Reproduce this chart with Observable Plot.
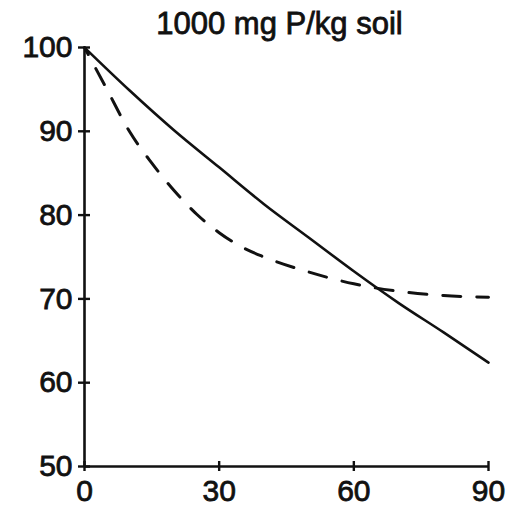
<!DOCTYPE html>
<html>
<head>
<meta charset="utf-8">
<script src="https://cdn.jsdelivr.net/npm/d3@7"></script>
<script src="https://cdn.jsdelivr.net/npm/@observablehq/plot@0.6"></script>
<style>
  html, body { margin: 0; padding: 0; background: #fff; }
  #chart svg text { stroke: #111; stroke-width: 0.8px; }
</style>
</head>
<body>
<div id="chart"></div>
<script>
const title = "1000 mg P/kg soil";
const solidDays = [0, 10, 20, 30, 40, 50, 60, 70, 80, 90];
const solidValues = [100, 94.9, 90.1, 85.7, 81.3, 77.3, 73.3, 69.5, 66.0, 62.4];
const dashDays = [0, 5, 10, 15, 20, 25, 30, 35, 40, 50, 60, 70, 80, 90];
const dashValues = [100, 95, 90, 86.2, 82.9, 80.1, 77.9, 76.2, 75.0, 73.2, 71.8, 70.9, 70.4, 70.2];
const xTicks = [0, 30, 60, 90];
const yTicks = [50, 60, 70, 80, 90, 100];

const solid = solidDays.map((d, i) => ({day: d, value: solidValues[i]}));
const dashed = dashDays.map((d, i) => ({day: d, value: dashValues[i]}));

const chart = Plot.plot({
  width: 520,
  height: 513,
  marginLeft: 84,
  marginRight: 32,
  marginTop: 47,
  marginBottom: 47,
  style: {fontFamily: "'Liberation Sans', Arial, sans-serif", fontSize: "30px", color: "#111", background: "#fff"},
  x: {domain: [0, 90]},
  y: {domain: [50, 100]},
  marks: [
    Plot.ruleX([0], {y1: 50, y2: 100, stroke: "#111", strokeWidth: 2.6}),
    Plot.ruleY([50], {x1: 0, x2: 90, stroke: "#111", strokeWidth: 2.6}),
    Plot.axisY({ticks: yTicks, tickSize: 12, dx: 6, tickPadding: 6, strokeWidth: 2.4, label: null, fill: "#111"}),
    Plot.axisX({ticks: xTicks, tickSize: 10, dy: -5, tickPadding: 8, strokeWidth: 2.4, label: null, fill: "#111"}),
    Plot.line(solid, {x: "day", y: "value", stroke: "#111", strokeWidth: 2.6, curve: "monotone-x"}),
    Plot.line(dashed, {x: "day", y: "value", stroke: "#111", strokeWidth: 3, strokeDasharray: "18,16", strokeDashoffset: 10, curve: "monotone-x"}),
    Plot.text([title], {frameAnchor: "top", dx: -7, dy: -14, lineAnchor: "bottom", fontSize: 31, fill: "#111"})
  ]
});
document.getElementById("chart").appendChild(chart);
</script>
</body>
</html>
